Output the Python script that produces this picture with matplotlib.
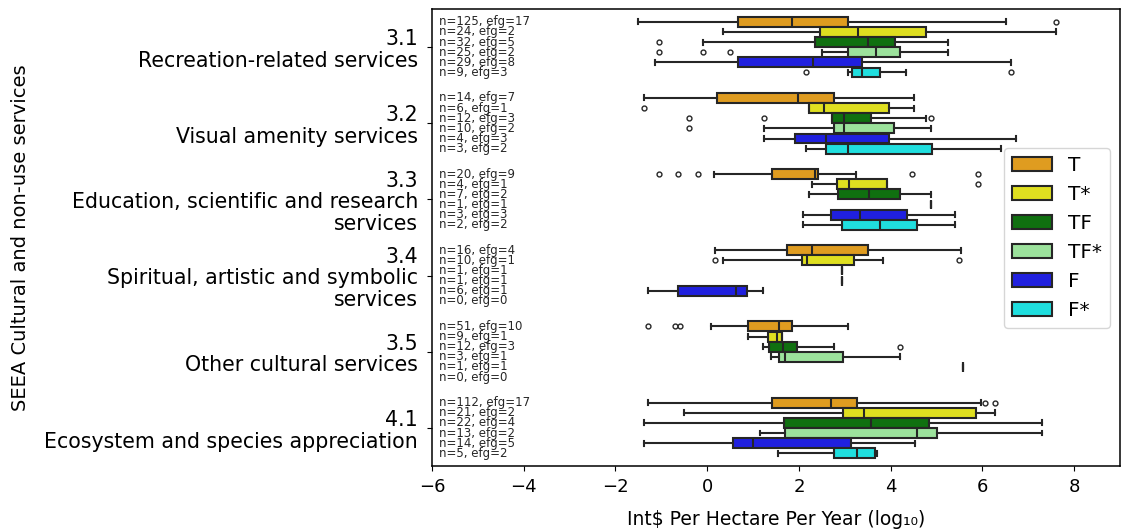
#!/usr/bin/env python3
'''
Box plots of cultural service values per hectare, grouped by SEEA class and biome type
'''
import colorsys
import matplotlib
matplotlib.use('Agg')
import matplotlib.pyplot as plt
import matplotlib.colors as mcolors
from matplotlib.patches import Patch

categories = ['3.1\nRecreation-related services',
              '3.2\nVisual amenity services',
              '3.3\nEducation, scientific and research\nservices',
              '3.4\nSpiritual, artistic and symbolic\nservices',
              '3.5\nOther cultural services',
              '4.1\nEcosystem and species appreciation']
hues = ['T', 'T*', 'TF', 'TF*', 'F', 'F*']
hue_colors = ['orange', 'yellow', 'green', 'lightgreen', 'blue', 'cyan']

# counts per category (rows) and hue (columns)
n_obs = [[125, 24, 32, 25, 29, 9],
         [14, 6, 12, 10, 4, 3],
         [20, 4, 7, 1, 3, 2],
         [16, 10, 1, 1, 6, 0],
         [51, 9, 12, 3, 1, 0],
         [112, 21, 22, 13, 14, 5]]
n_efg = [[17, 2, 5, 2, 8, 3],
         [7, 1, 3, 2, 3, 2],
         [9, 1, 2, 1, 3, 2],
         [4, 1, 1, 1, 1, 0],
         [10, 1, 3, 1, 1, 0],
         [17, 2, 4, 2, 5, 2]]

# box statistics (log10 values), None = no data
whis_lo = [[-1.5, 0.35, -0.09, 2.5, -1.13, 3.07],
           [-1.37, 2.22, 2.72, 1.24, 1.24, 2.15],
           [0.15, 2.28, 2.22, 4.87, 2.09, 2.09],
           [0.17, 0.35, 2.95, 2.95, -1.28, None],
           [0.09, 0.89, 1.22, 1.39, 5.57, None],
           [-1.28, -0.5, -1.37, 1.15, -1.37, 1.54]]
q1 = [[0.67, 2.46, 2.35, 3.07, 0.67, 3.16],
      [0.21, 2.22, 2.72, 2.77, 1.91, 2.59],
      [1.41, 2.82, 2.85, 4.87, 2.7, 2.93],
      [1.74, 2.07, 2.95, 2.95, -0.63, None],
      [0.89, 1.33, 1.35, 1.57, 5.57, None],
      [1.41, 2.96, 1.67, 1.7, 0.57, 2.76]]
med = [[1.85, 3.28, 3.5, 3.67, 2.3, 3.37],
       [1.98, 2.54, 2.98, 2.98, 2.6, 3.07],
       [2.35, 3.09, 3.52, 4.87, 3.33, 3.76],
       [2.28, 2.17, 2.95, 2.95, 0.63, None],
       [1.57, 1.52, 1.65, 1.7, 5.57, None],
       [2.7, 3.41, 3.57, 4.57, 1.0, 3.26]]
q3 = [[3.07, 4.78, 4.1, 4.2, 3.37, 3.76],
      [2.76, 3.96, 3.57, 4.07, 3.96, 4.9],
      [2.42, 3.91, 4.2, 4.87, 4.35, 4.57],
      [3.5, 3.2, 2.95, 2.95, 0.87, None],
      [1.85, 1.63, 1.96, 2.96, 5.57, None],
      [3.26, 5.87, 4.83, 5.0, 3.13, 3.65]]
whis_hi = [[6.52, 7.6, 5.26, 5.26, 6.63, 4.33],
           [4.5, 4.5, 4.78, 4.87, 6.74, 6.4],
           [3.24, 3.91, 4.87, 4.87, 5.41, 5.41],
           [5.54, 3.83, 2.95, 2.95, 1.22, None],
           [3.07, 1.63, 2.76, 4.2, 5.57, None],
           [5.97, 6.28, 7.3, 7.3, 4.54, 3.7]]
outliers = [[[7.6], [], [-1.06], [-1.06, -0.1, 0.5], [], [2.15, 6.63]],
            [[], [-1.37], [-0.39, 1.24, 4.87], [-0.39], [], []],
            [[-1.04, -0.63, -0.2, 4.46, 5.9], [5.9], [], [], [], []],
            [[], [0.17, 5.48], [], [], [], []],
            [[-1.28, -0.7, -0.6], [], [4.2], [], [], []],
            [[6.05, 6.28], [], [], [], [], []]]


def desaturate(color, prop=0.75):
    '''
    reduce the saturation of a named colour, like seaborn does for box faces
    '''
    r, g, b = mcolors.to_rgb(color)
    h, l, s = colorsys.rgb_to_hls(r, g, b)
    return colorsys.hls_to_rgb(h, l, s * prop)


def main():
    '''
    draw the grouped horizontal box plot
    '''
    fig = plt.figure(figsize=(11.22, 5.31), dpi=100)
    ax = fig.add_axes([0.385, 0.1224, 0.6132, 0.8606])

    line_col = '#262626'
    faces = [desaturate(c) for c in hue_colors]
    n_hue = len(hues)
    step = 0.8 / n_hue

    for i in range(len(categories)):
        for j in range(n_hue):
            pos = i - 0.4 + step * (j + 0.5)
            ax.text(-5.85, pos, f'n={n_obs[i][j]}, efg={n_efg[i][j]}', fontsize=8.5,
                    va='center', ha='left', color='0.15')
            if whis_lo[i][j] is None:
                continue
            stats = [{'whislo': whis_lo[i][j], 'q1': q1[i][j], 'med': med[i][j],
                      'q3': q3[i][j], 'whishi': whis_hi[i][j], 'fliers': outliers[i][j]}]
            ax.bxp(stats, positions=[pos], widths=step * 0.98, orientation='horizontal',
                   patch_artist=True, manage_ticks=False,
                   boxprops={'facecolor': faces[j], 'edgecolor': line_col, 'linewidth': 1.5},
                   medianprops={'color': line_col, 'linewidth': 1.5},
                   whiskerprops={'color': line_col, 'linewidth': 1.5},
                   capprops={'color': line_col, 'linewidth': 1.5},
                   flierprops={'marker': 'o', 'markersize': 3.5, 'markerfacecolor': 'none',
                               'markeredgecolor': line_col, 'markeredgewidth': 1.0})

    ax.set_xlim(-6, 9)
    ax.set_ylim(len(categories) - 0.5, -0.5)
    ax.set_yticks(range(len(categories)))
    ax.set_yticklabels(categories, fontsize=14.8, linespacing=1.1)
    ax.tick_params(axis='y', pad=6.5)
    ax.set_xticks([-6, -4, -2, 0, 2, 4, 6, 8])
    ax.tick_params(axis='x', labelsize=13, pad=5)
    for spine in ax.spines.values():
        spine.set_linewidth(1.1)
    ax.set_xlabel('Int$ Per Hectare Per Year (log\u2081\u2080)', fontsize=13.5, labelpad=10)
    ax.set_ylabel('SEEA Cultural and non-use services', fontsize=14, labelpad=10)

    handles = [Patch(facecolor=faces[j], edgecolor=line_col, linewidth=1.5, label=hues[j])
               for j in range(n_hue)]
    ax.legend(handles=handles, loc='center right', fontsize=14.4)

    fig.savefig('out.png', dpi=100)


if __name__ == '__main__':
    main()
